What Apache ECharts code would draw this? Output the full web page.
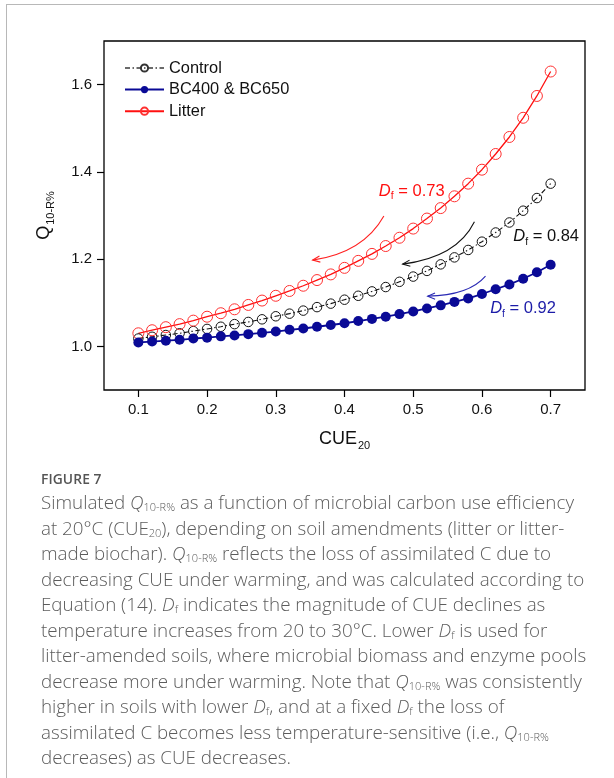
<!DOCTYPE html>
<html>
<head>
<meta charset="utf-8">
<script src="https://cdn.jsdelivr.net/npm/echarts@6/dist/echarts.min.js"></script>
<style>
  html, body { margin: 0; padding: 0; background: #fff; }
  body { width: 614px; height: 778px; position: relative; overflow: hidden; }
  #frame { position: absolute; left: 6px; top: 4px; width: 640px; height: 800px;
           border-top: 1.5px solid #b8b8b8; border-left: 1.5px solid #b8b8b8; }
  #chart { position: absolute; left: 0; top: 0; width: 614px; height: 470px; }
  #caption { position: absolute; left: 41px; top: 468px; width: 573px;
             font-family: 'Open Sans', sans-serif; color: #5c5c5c; }
  .fig { font-size: 13.8px; font-weight: 600; letter-spacing: 0.1px; line-height: 22px; color: #555; }
  .txt { font-size: 18.8px; font-weight: 300; line-height: 25.5px; white-space: nowrap; }
  .txt i { font-style: italic; }
  .txt sub { font-size: 11px; vertical-align: -2px; line-height: 0; }
</style>
</head>
<body>
<div id="frame"></div>
<div id="chart"></div>
<div id="caption">
  <div class="fig">FIGURE 7</div>
  <div class="txt">
    Simulated <i>Q</i><sub>10-R%</sub> as a function of microbial carbon use efficiency<br>
    at 20°C (CUE<sub>20</sub>), depending on soil amendments (litter or litter-<br>
    made biochar). <i>Q</i><sub>10-R%</sub> reflects the loss of assimilated C due to<br>
    decreasing CUE under warming, and was calculated according to<br>
    Equation (14). <i>D</i><sub>f</sub> indicates the magnitude of CUE declines as<br>
    temperature increases from 20 to 30°C. Lower <i>D</i><sub>f</sub> is used for<br>
    litter-amended soils, where microbial biomass and enzyme pools<br>
    decrease more under warming. Note that <i>Q</i><sub>10-R%</sub> was consistently<br>
    higher in soils with lower <i>D</i><sub>f</sub>, and at a fixed <i>D</i><sub>f</sub> the loss of<br>
    assimilated C becomes less temperature-sensitive (i.e., <i>Q</i><sub>10-R%</sub><br>
    decreases) as CUE decreases.
  </div>
</div>
<script>
// CUE at 20 °C (x values shared by all three curves)
const cue = [0.10, 0.12, 0.14, 0.16, 0.18, 0.20, 0.22, 0.24, 0.26, 0.28,
             0.30, 0.32, 0.34, 0.36, 0.38, 0.40, 0.42, 0.44, 0.46, 0.48,
             0.50, 0.52, 0.54, 0.56, 0.58, 0.60, 0.62, 0.64, 0.66, 0.68, 0.70];

// Q10-R% for each soil amendment
const controlQ = [1.018, 1.022, 1.026, 1.030, 1.035, 1.040, 1.045, 1.051, 1.056, 1.062,
                  1.069, 1.075, 1.082, 1.090, 1.098, 1.107, 1.116, 1.126, 1.136, 1.148,
                  1.160, 1.173, 1.188, 1.204, 1.221, 1.240, 1.261, 1.284, 1.311, 1.340, 1.373];
const biocharQ = [1.009, 1.011, 1.013, 1.015, 1.018, 1.020, 1.023, 1.025, 1.028, 1.031,
                  1.034, 1.038, 1.041, 1.045, 1.049, 1.053, 1.058, 1.063, 1.068, 1.074,
                  1.080, 1.087, 1.094, 1.102, 1.110, 1.120, 1.131, 1.142, 1.155, 1.170, 1.187];
const litterQ  = [1.030, 1.037, 1.044, 1.051, 1.059, 1.068, 1.076, 1.085, 1.095, 1.105,
                  1.116, 1.127, 1.139, 1.152, 1.165, 1.180, 1.196, 1.212, 1.230, 1.249,
                  1.270, 1.293, 1.317, 1.344, 1.373, 1.405, 1.441, 1.480, 1.524, 1.574, 1.630];

const seriesNames = ['Control', 'BC400 & BC650', 'Litter'];
const xTicks = [0.1, 0.2, 0.3, 0.4, 0.5, 0.6, 0.7];
const yTicks = [1.0, 1.2, 1.4, 1.6];

// D_f value for each curve
const dfValues = ['0.73', '0.84', '0.92'];
// Anchor of each D_f label, in data units (left edge, vertical middle)
const dfAnchors = [[0.450, 1.356], [0.6456, 1.252], [0.612, 1.0866]];
// Curved arrows: start, control point, end (data units)
const arrowPaths = [
  [[0.4573, 1.2990], [0.4274, 1.2149], [0.3536, 1.1977]],
  [[0.5891, 1.2856], [0.5636, 1.2041], [0.4846, 1.1885]],
  [[0.6052, 1.1610], [0.5811, 1.1167], [0.5211, 1.1151]]
];

const RED = '#ff1010', BLACK = '#111111', BLUE = '#0a0a96';
const dfColors = [RED, BLACK, '#1c1ca8'];
const arrowColors = ['#ff2020', '#111111', '#2a2ab4'];
const FONT = 'Liberation Sans, Arial, sans-serif';

const pairs = ys => cue.map((x, i) => [x, ys[i]]);

const chart = echarts.init(document.getElementById('chart'), null, { renderer: 'canvas' });
chart.setOption({
  animation: false,
  backgroundColor: 'transparent',
  grid: {
    left: 104, top: 41, right: 29, bottom: 80,
    show: true, borderColor: '#000', borderWidth: 1.3,
    containLabel: false, outerBoundsMode: 'none'
  },
  legend: {
    data: [
      { name: seriesNames[0], lineStyle: { color: '#6a6a6a' }, itemStyle: { borderColor: '#333' } },
      { name: seriesNames[1] },
      { name: seriesNames[2] }
    ],
    orient: 'vertical',
    left: 119, top: 55,
    itemWidth: 39, itemHeight: 9, itemGap: 5.6,
    textStyle: { fontFamily: FONT, fontSize: 16.4, color: '#111', lineHeight: 14 }
  },
  xAxis: {
    type: 'value', min: 0.05, max: 0.75,
    axisLine: { show: false },
    splitLine: { show: false },
    axisTick: { show: true, customValues: xTicks, length: 7, lineStyle: { color: '#000', width: 1.2 } },
    axisLabel: { customValues: xTicks, formatter: v => v.toFixed(1), fontFamily: FONT,
                 fontSize: 15, color: '#111', margin: 12 },
    name: '{a|CUE}{b|20}',
    nameLocation: 'middle', nameGap: 38,
    nameTextStyle: {
      rich: {
        a: { fontFamily: FONT, fontSize: 18, color: '#111' },
        b: { fontFamily: FONT, fontSize: 11, color: '#111', padding: [12, 0, 0, 1] }
      }
    }
  },
  yAxis: {
    type: 'value', min: 0.9, max: 1.7,
    axisLine: { show: false },
    splitLine: { show: false },
    axisTick: { show: true, customValues: yTicks, length: 7, lineStyle: { color: '#000', width: 1.2 } },
    axisLabel: { customValues: yTicks, formatter: v => v.toFixed(1), fontFamily: FONT,
                 fontSize: 15, color: '#111', margin: 12 },
    name: '{a|Q}{b|10-R%}',
    nameLocation: 'middle', nameGap: 48, nameRotate: 90,
    nameTextStyle: {
      rich: {
        a: { fontFamily: FONT, fontSize: 18, color: '#111' },
        b: { fontFamily: FONT, fontSize: 11, color: '#111', padding: [12, 0, 0, 1] }
      }
    }
  },
  series: [
    {
      name: seriesNames[0], type: 'line', data: pairs(controlQ), z: 3,
      symbol: 'circle', symbolSize: 9.5,
      itemStyle: { color: 'rgba(255,255,255,0)', borderColor: BLACK, borderWidth: 1 },
      lineStyle: { color: BLACK, width: 1.1, type: [5, 2.5, 1.5, 2.5] }
    },
    {
      name: seriesNames[1], type: 'line', data: pairs(biocharQ), z: 4,
      symbol: 'circle', symbolSize: 10,
      itemStyle: { color: BLUE, borderColor: BLUE, borderWidth: 0 },
      lineStyle: { color: BLUE, width: 1.8 }
    },
    {
      name: seriesNames[2], type: 'line', data: pairs(litterQ), z: 3,
      symbol: 'circle', symbolSize: 11,
      itemStyle: { color: 'rgba(255,255,255,0)', borderColor: '#ff3030', borderWidth: 1 },
      lineStyle: { color: RED, width: 1.3 }
    },
    {
      type: 'custom', coordinateSystem: 'cartesian2d', silent: true, z: 5,
      data: arrowPaths.map(a => [a[0][0], a[0][1], a[1][0], a[1][1], a[2][0], a[2][1]]),
      renderItem(params, api) {
        const p0 = api.coord([api.value(0), api.value(1)]);
        const p1 = api.coord([api.value(2), api.value(3)]);
        const p2 = api.coord([api.value(4), api.value(5)]);
        const color = arrowColors[params.dataIndex];
        const ang = Math.atan2(p2[1] - p1[1], p2[0] - p1[0]);
        const L = 8, w = 0.4;
        const h1 = [p2[0] - L * Math.cos(ang - w), p2[1] - L * Math.sin(ang - w)];
        const h2 = [p2[0] - L * Math.cos(ang + w), p2[1] - L * Math.sin(ang + w)];
        return {
          type: 'group',
          children: [
            { type: 'bezierCurve',
              shape: { x1: p0[0], y1: p0[1], cpx1: p1[0], cpy1: p1[1], x2: p2[0], y2: p2[1] },
              style: { stroke: color, fill: null, lineWidth: 1.1 } },
            { type: 'polyline', shape: { points: [h1, p2, h2] },
              style: { stroke: color, fill: null, lineWidth: 1.1 } }
          ]
        };
      }
    },
    {
      type: 'custom', coordinateSystem: 'cartesian2d', silent: true, z: 6,
      data: dfAnchors,
      renderItem(params, api) {
        const p = api.coord([api.value(0), api.value(1)]);
        const c = dfColors[params.dataIndex];
        return {
          type: 'text', x: p[0], y: p[1],
          style: {
            text: '{d|D}{s|f}{t| = ' + dfValues[params.dataIndex] + '}',
            align: 'left', verticalAlign: 'middle',
            fill: c, fontFamily: FONT, fontSize: 16,
            rich: {
              d: { fontFamily: FONT, fontSize: 16.5, fontStyle: 'italic', fill: c },
              s: { fontFamily: FONT, fontSize: 10.5, fill: c, padding: [11, 0, 0, 0] },
              t: { fontFamily: FONT, fontSize: 16.5, fill: c }
            }
          }
        };
      }
    }
  ]
});
</script>
</body>
</html>
